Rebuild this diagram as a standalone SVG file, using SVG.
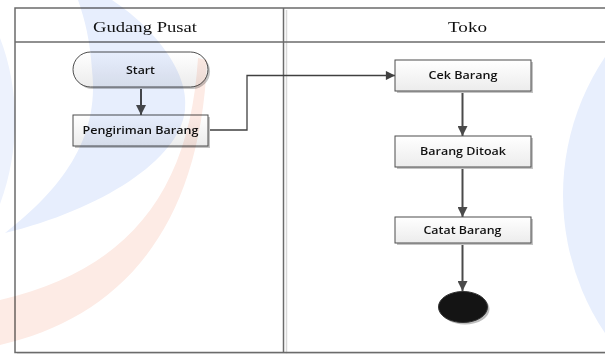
<svg xmlns="http://www.w3.org/2000/svg" width="605" height="354" viewBox="0 0 605 354">
  <style>
    .lane { fill: none; stroke: #6b6b6b; stroke-width: 1.5; }
    .lane-shadow { fill: none; stroke: #d9d9d9; stroke-width: 1.5; }
    .lane-title { font-family: "Liberation Serif", "Times New Roman", serif; font-size: 14px; fill: #111111; text-anchor: middle; }
    .node-box { fill: url(#boxFill); stroke: #4d4d4d; stroke-width: 1; }
    .node-shadow { fill: #c4c4c4; }
    .node-label { font-family: "Open Sans", "Noto Sans", sans-serif; font-size: 10px; font-weight: 600; fill: #111111; text-anchor: middle; }
    .flow { fill: none; stroke: #4a4a4a; stroke-width: 2; }
    .flow-thin { fill: none; stroke: #404040; stroke-width: 1.3; }
    .mark { mix-blend-mode: multiply; }
  </style>
  <defs>
    <linearGradient id="boxFill" x1="0" y1="0" x2="0" y2="1">
      <stop offset="0" stop-color="#ffffff"/>
      <stop offset="1" stop-color="#ececec"/>
    </linearGradient>
    <marker id="arrow" viewBox="0 0 10 10" refX="10" refY="5" markerWidth="5" markerHeight="5" markerUnits="strokeWidth" orient="auto">
      <path d="M0,0 L10,5 L0,10 Z" fill="#4a4a4a"/>
    </marker>
    <marker id="arrowThin" viewBox="0 0 10 10" refX="10" refY="5" markerWidth="9" markerHeight="7" markerUnits="strokeWidth" orient="auto">
      <path d="M0,0 L10,5 L0,10 Z" fill="#404040"/>
    </marker>
  </defs>

  <rect width="605" height="354" fill="#ffffff"/>

  <!-- swimlane frame -->
  <g id="lanes">
    <line class="lane-shadow" x1="286.5" y1="10" x2="286.5" y2="354"/>
    <line class="lane-shadow" x1="17" y1="354" x2="605" y2="354"/>
    <path class="lane" d="M605,8 H15 V352.5 H605"/>
    <line class="lane" x1="15" y1="42" x2="605" y2="42"/>
    <line class="lane" x1="283.5" y1="8" x2="283.5" y2="352.5"/>
    <text class="lane-title" x="145" y="32" textLength="104" lengthAdjust="spacingAndGlyphs">Gudang Pusat</text>
    <text class="lane-title" x="467.5" y="32" textLength="39" lengthAdjust="spacingAndGlyphs">Toko</text>
  </g>

  <!-- connectors -->
  <g id="connectors">
    <line class="flow" x1="141" y1="87" x2="141" y2="115" marker-end="url(#arrow)"/>
    <polyline class="flow-thin" points="208,130 247,130 247,75.5 395,75.5" marker-end="url(#arrowThin)"/>
    <line class="flow" x1="462.5" y1="91" x2="462.5" y2="136" marker-end="url(#arrow)"/>
    <line class="flow" x1="462.5" y1="167" x2="462.5" y2="217" marker-end="url(#arrow)"/>
    <line class="flow" x1="462.5" y1="243" x2="462.5" y2="291" marker-end="url(#arrow)"/>
  </g>

  <!-- nodes -->
  <g id="start">
    <rect class="node-shadow" x="75" y="54" width="135" height="35" rx="17.5"/>
    <rect class="node-box" x="73" y="52" width="135" height="35" rx="17.5"/>
    <text class="node-label" x="140.5" y="73.5" textLength="29" lengthAdjust="spacingAndGlyphs">Start</text>
  </g>

  <g id="pengiriman-barang">
    <rect class="node-shadow" x="75" y="117" width="135" height="31"/>
    <rect class="node-box" x="73" y="115" width="135" height="31"/>
    <text class="node-label" x="140.5" y="134" textLength="116" lengthAdjust="spacingAndGlyphs">Pengiriman Barang</text>
  </g>

  <g id="cek-barang">
    <rect class="node-shadow" x="397" y="62" width="136" height="31"/>
    <rect class="node-box" x="395" y="60" width="136" height="31"/>
    <text class="node-label" x="463" y="79" textLength="69" lengthAdjust="spacingAndGlyphs">Cek Barang</text>
  </g>

  <g id="barang-ditoak">
    <rect class="node-shadow" x="397" y="138" width="136" height="31"/>
    <rect class="node-box" x="395" y="136" width="136" height="31"/>
    <text class="node-label" x="463" y="155" textLength="86" lengthAdjust="spacingAndGlyphs">Barang Ditoak</text>
  </g>

  <g id="catat-barang">
    <rect class="node-shadow" x="397" y="219" width="136" height="26"/>
    <rect class="node-box" x="395" y="217" width="136" height="26"/>
    <text class="node-label" x="462.5" y="233.5" textLength="78" lengthAdjust="spacingAndGlyphs">Catat Barang</text>
  </g>

  <g id="end">
    <ellipse cx="465" cy="309" rx="24.5" ry="15.5" fill="#bdbdbd"/>
    <ellipse cx="463" cy="307" rx="24.5" ry="15.5" fill="#141414" stroke="#333" stroke-width="1"/>
  </g>

  <!-- faint background emblem tinting the page -->
  <g id="emblem" class="mark">
    <path d="M0,38 C20,90 20,150 0,204 Z" fill="#edf2fd"/>
    <path d="M78,0 L112,0 C150,25 190,70 185,110 C180,160 100,210 5,233 C60,190 100,140 92,70 C90,40 85,20 78,0 Z" fill="#e7eefd"/>
    <path d="M198,58 C190,190 130,270 0,300 L0,345 C110,320 200,240 207,60 Z" fill="#fdebe5"/>
    <circle cx="811" cy="195" r="248" fill="#e8effd"/>
  </g>
</svg>
